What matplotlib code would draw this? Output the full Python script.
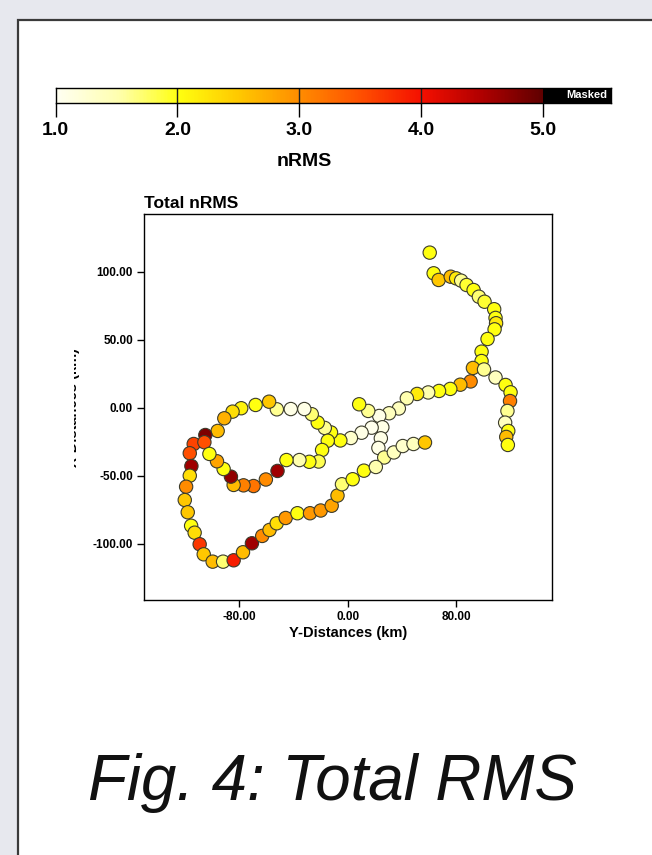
import numpy as np
import matplotlib
matplotlib.use("Agg")
import matplotlib.pyplot as plt
from matplotlib.colors import LinearSegmentedColormap
from matplotlib.patches import Rectangle
from matplotlib.transforms import Bbox, TransformedBbox

plt.rcParams['font.family'] = ['Liberation Sans', 'DejaVu Sans']
plt.rcParams['axes.unicode_minus'] = False

# ---- data (km, nRMS) ----
y_dist = [60.6, 63.5, 67.2, 76.1, 80.1, 83.8, 87.8, 93.0, 96.9, 101.1, 108.2, 109.2, 109.6, 108.5,
          103.3, 98.9, 98.9, 92.5, 100.7, 109.2, 116.6, 120.3, 119.9, 118.0, 116.3, 118.6, 117.1, 118.3,
          90.8, 83.2, 75.8, 67.5, 59.5, 51.3, 43.7, 37.8, 30.6, 23.3, 15.2, 8.5, 25.6, 24.5, 22.7, 27.0,
          17.7, 10.3, 2.4, -5.4, 34.1, 40.7, 48.6, 57.1,
          -12.3, -16.9, -22.1, -26.5, -32.0, -42.0, -52.3, -58.0, -68.0, -78.6, -85.0, -91.1, -96.0,
          -105.1, -113.7, -105.8, -116.6, -115.4, -116.6, -119.3, -120.3, -118.1, -115.6, -113.0,
          -109.3, -106.3, -99.7, -92.0, -84.2, -77.3, -70.7, -63.1, -57.7, -52.4, -45.8, -37.1, -27.8,
          -19.9, -11.8, -7.5, -4.2, 3.7, 12.0, 20.8,
          -14.7, -18.9, -21.4, -28.3, -35.6, -45.2, -51.8, -60.4, -69.5, -76.9, -84.2, -86.2, -91.6,
          -96.5, -102.1]
x_dist = [114.0, 98.8, 93.9, 96.3, 95.1, 93.4, 90.2, 86.5, 81.6, 77.9, 72.4, 66.0, 62.1, 57.6,
          50.5, 41.2, 34.3, 29.2, 28.1, 22.2, 16.7, 11.3, 4.9, -2.4, -11.0, -17.1, -21.5, -27.4,
          19.3, 16.9, 13.8, 12.3, 11.2, 10.1, 6.9, -0.6, -4.1, -6.1, -2.4, 2.5, -14.4, -22.5, -29.6, -36.6,
          -14.7, -18.4, -22.3, -24.1, -32.9, -28.2, -26.7, -25.6,
          -18.2, -14.9, -10.9, -4.8, -1.0, -1.0, -1.2, 4.4, 2.0, -0.4, -2.9, -7.8, -17.1,
          -20.1, -26.7, -25.4, -33.5, -42.9, -50.0, -58.1, -67.9, -76.9, -86.8, -91.9,
          -100.4, -107.8, -113.2, -113.2, -112.2, -106.3, -99.7, -94.3, -89.9, -85.0, -81.1, -77.6, -77.6,
          -75.6, -72.1, -64.6, -56.3, -52.6, -46.3, -43.6,
          -24.3, -31.1, -39.6, -39.8, -38.5, -38.5, -46.5, -52.8, -57.6, -57.1, -56.8, -50.7, -45.1,
          -39.4, -34.0]
nrms = [2.0, 2.0, 2.5, 2.6, 2.2, 1.6, 1.9, 2.0, 1.7, 1.9, 2.0, 2.0, 2.2, 2.0,
        2.0, 2.0, 2.0, 2.6, 1.6, 1.4, 2.0, 2.0, 3.1, 1.6, 1.4, 2.0, 2.6, 2.0,
        3.0, 2.6, 2.0, 2.0, 1.5, 2.2, 1.5, 1.4, 1.4, 1.1, 1.6, 2.0, 1.1, 1.1, 1.1, 1.6,
        1.05, 1.1, 1.3, 2.0, 1.4, 1.3, 1.4, 2.5,
        2.0, 1.6, 2.0, 1.7, 1.1, 1.1, 1.6, 2.5, 2.0, 2.1, 2.3, 2.7, 2.6,
        4.8, 3.6, 3.5, 3.5, 4.6, 2.3, 3.0, 2.5, 2.5, 2.0, 2.3,
        3.7, 2.5, 2.6, 1.7, 3.9, 2.6, 4.6, 3.0, 2.6, 2.3, 2.9, 2.0, 2.9,
        2.9, 2.8, 2.6, 1.7, 2.0, 2.0, 1.5,
        2.0, 2.0, 1.8, 2.0, 1.5, 2.0, 4.6, 3.0, 3.2, 3.1, 2.6, 4.7, 2.0,
        2.8, 2.0]
x_ticks = [-80, 0, 80]
y_ticks = [100, 50, 0, -50, -100]
cbar_ticks = [1.0, 2.0, 3.0, 4.0, 5.0]

W, H = 652, 855
fig = plt.figure(figsize=(W / 100, H / 100), dpi=100)
fig.patch.set_facecolor('#e7e8ee')

def fx(px):
    return px / W

def fy(py):
    return 1 - py / H

# white panel
fig.patches.append(Rectangle((fx(18), -0.1), 1.2, fy(20) + 0.1, transform=fig.transFigure,
                             facecolor='white', edgecolor='#3a3a3a', linewidth=1.6, zorder=-5))

cmap = LinearSegmentedColormap.from_list('nrms', [
    (0.0, '#fffff2'), (0.125, '#ffffb0'), (0.25, '#ffff10'), (0.375, '#ffc800'),
    (0.5, '#ff8c00'), (0.625, '#ff5000'), (0.75, '#f51000'), (0.875, '#b00000'), (1.0, '#600000')])

# ---- colorbar ----
cb_left, cb_right5, cb_right = 55.6, 543.0, 611.0
unit = (cb_right5 - cb_left) / 4.0
xmax = 1 + (cb_right - cb_left) / unit
cax = fig.add_axes([fx(cb_left), fy(103), (cb_right - cb_left) / W, 15 / H])
grad = np.linspace(1, 5, 400).reshape(1, -1)
cax.imshow(grad, extent=[1, 5, 0, 1], aspect='auto', cmap=cmap, vmin=1, vmax=5)
cax.add_patch(Rectangle((5, 0), xmax - 5, 1, facecolor='black', edgecolor='none'))
cax.text(xmax - 0.03, 0.5, 'Masked', color='white', fontsize=8,
         fontweight='bold', ha='right', va='center')
cax.set_xlim(1, xmax)
cax.set_ylim(0, 1)
for v in [2, 3, 4]:
    cax.axvline(v, color='#222222', lw=1)
cax.set_yticks([])
cax.set_xticks(cbar_ticks)
cax.set_xticklabels([f'{v:.1f}' for v in cbar_ticks], fontsize=14, fontweight='bold')
cax.tick_params(axis='x', direction='out', length=10, width=1, pad=4)
for s in cax.spines.values():
    s.set_linewidth(1)
fig.text(fx(304), fy(162), 'nRMS', fontsize=14, fontweight='bold', ha='center', va='center')

# ---- main axes ----
ax = fig.add_axes([fx(144), fy(600), (552 - 144) / W, (600 - 214) / H])
ax.scatter(y_dist, x_dist, c=nrms, cmap=cmap, vmin=1, vmax=5, s=92,
           edgecolors='#3b3b2b', linewidths=0.8, zorder=3)
ax.set_xlim(-150.4, 150.9)
ax.set_ylim(-141.4, 142.4)
ax.set_xticks(x_ticks)
ax.set_xticklabels([f'{v:.2f}' for v in x_ticks], fontsize=8.5, fontweight='bold')
ax.set_yticks(y_ticks)
ax.set_yticklabels([f'{v:.2f}' for v in y_ticks], fontsize=8.5, fontweight='bold')
ax.tick_params(direction='out', length=5, width=1, pad=3)
for s in ax.spines.values():
    s.set_linewidth(1)
ax.set_xlabel('Y-Distances (km)', fontsize=10.5, fontweight='bold', labelpad=2)
ax.set_title('Total nRMS', loc='left', fontsize=12.5, fontweight='bold', pad=4)

# clipped y label
t = fig.text(fx(73), fy(407), 'X-Distances (km)', rotation=90, fontsize=10.5, fontweight='bold',
             ha='center', va='center')
t.set_clip_on(True)
t.set_clip_box(TransformedBbox(Bbox([[fx(74), 0], [1, 1]]), fig.transFigure))

# caption
fig.text(fx(332), fy(800), 'Fig. 4: Total RMS', fontsize=45.8, style='italic', ha='center',
         va='baseline', color='#111111')

fig.savefig('out.png', dpi=100, facecolor=fig.get_facecolor())
